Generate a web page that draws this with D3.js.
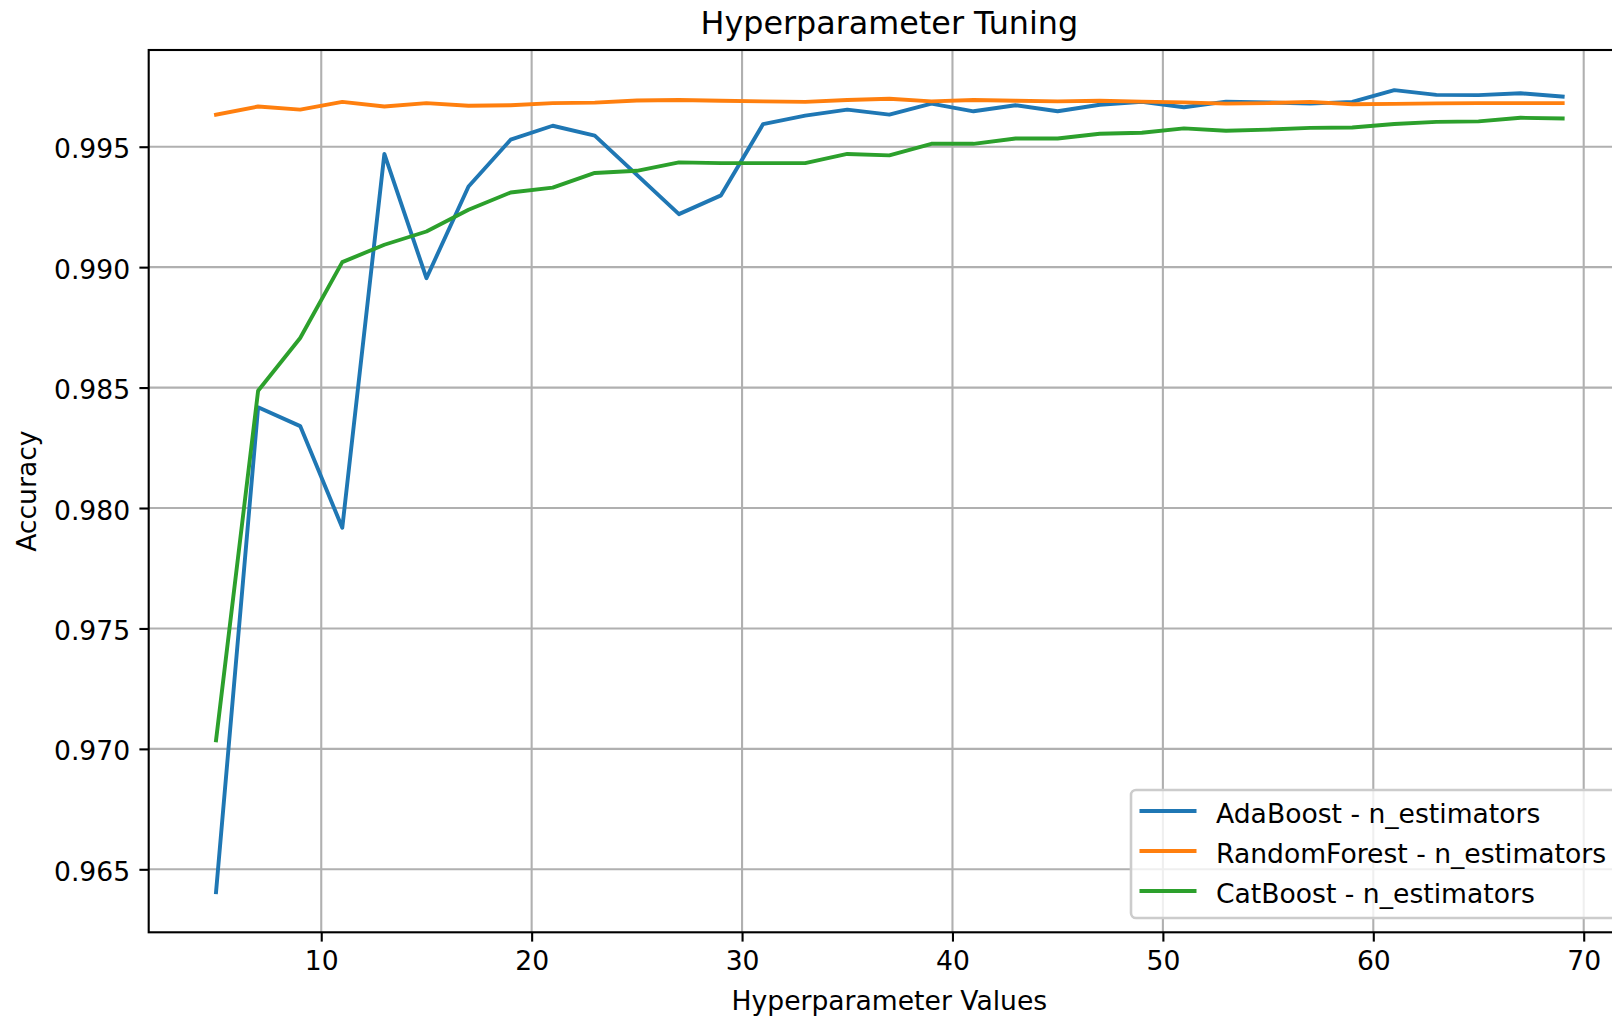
<!DOCTYPE html>
<html>
<head>
<meta charset="utf-8">
<script src="https://cdn.jsdelivr.net/npm/d3@7"></script>
<style>
    body { margin: 0; background: #ffffff; }
    svg { display: block; overflow: hidden; }
    text { font-family: "DejaVu Sans", sans-serif; fill: #000000; }
</style>
</head>
<body>
<div id="ChartContainer"></div>
<script>
const nEstimators = [5, 7, 9, 11, 13, 15, 17, 19, 21, 23, 25, 27, 29, 31, 33, 35, 37,
    39, 41, 43, 45, 47, 49, 51, 53, 55, 57, 59, 61, 63, 65, 67, 69];

const adaBoost = [0.96405, 0.98418, 0.98340, 0.97918, 0.99470, 0.98954, 0.99335, 0.99529,
    0.99587, 0.99546, 0.99383, 0.99220, 0.99298, 0.99594, 0.99629, 0.99654, 0.99633,
    0.99679, 0.99647, 0.99672, 0.99647, 0.99674, 0.99686, 0.99664, 0.99687, 0.99684,
    0.99679, 0.99686, 0.99735, 0.99715, 0.99714, 0.99722, 0.99708];

const randomForest = [0.99633, 0.99667, 0.99654, 0.99686, 0.99667, 0.99681, 0.99670, 0.99672,
    0.99681, 0.99683, 0.99692, 0.99694, 0.99691, 0.99688, 0.99686, 0.99694, 0.99699,
    0.99688, 0.99694, 0.99691, 0.99688, 0.99691, 0.99687, 0.99684, 0.99679, 0.99681,
    0.99686, 0.99676, 0.99678, 0.99680, 0.99681, 0.99681, 0.99681];

const catBoost = [0.97036, 0.98487, 0.98706, 0.99021, 0.99093, 0.99148, 0.99238, 0.99310,
    0.99330, 0.99391, 0.99400, 0.99435, 0.99432, 0.99432, 0.99432, 0.99470, 0.99464,
    0.99512, 0.99512, 0.99534, 0.99534, 0.99554, 0.99558, 0.99576, 0.99566, 0.99571,
    0.99578, 0.99580, 0.99594, 0.99603, 0.99605, 0.99620, 0.99617];

const seriesNames = ['AdaBoost - n_estimators', 'RandomForest - n_estimators', 'CatBoost - n_estimators'];
const seriesColors = ['#1f77b4', '#ff7f0e', '#2ca02c'];

const xTicks = [10, 20, 30, 40, 50, 60, 70];
const yTicks = [0.965, 0.970, 0.975, 0.980, 0.985, 0.990, 0.995];

const width = 1612;
const height = 1018;
// plot box (right edge runs past the picture, like the original crop)
const plotLeft = 148.7, plotTop = 50, plotRight = 1630, plotBottom = 932.3;
const tickFont = 26.6;
const titleFont = 31.8;
const lineWidth = 3.9;
const thin = 2.1;

const svg = d3.select('#ChartContainer')
    .append('svg')
    .attr('width', width)
    .attr('height', height);

const allSeries = [adaBoost, randomForest, catBoost];

// matplotlib style 5% padding
function paddedExtent(values) {
    const ext = d3.extent(values);
    const pad = (ext[1] - ext[0]) * 0.05;
    return [ext[0] - pad, ext[1] + pad];
}

const x = d3.scaleLinear()
    .domain(paddedExtent(nEstimators))
    .range([plotLeft, plotRight]);

const y = d3.scaleLinear()
    .domain(paddedExtent(allSeries.flat()))
    .range([plotBottom, plotTop]);

function drawGrid() {
    const grid = svg.append('g').attr('class', 'grid');

    grid.selectAll('line.vgrid')
        .data(xTicks)
        .enter()
        .append('line')
        .attr('x1', d => x(d))
        .attr('x2', d => x(d))
        .attr('y1', plotTop)
        .attr('y2', plotBottom)
        .attr('stroke', '#b0b0b0')
        .attr('stroke-width', thin);

    grid.selectAll('line.hgrid')
        .data(yTicks)
        .enter()
        .append('line')
        .attr('x1', plotLeft)
        .attr('x2', plotRight)
        .attr('y1', d => y(d))
        .attr('y2', d => y(d))
        .attr('stroke', '#b0b0b0')
        .attr('stroke-width', thin);
}

function drawAxes() {
    const xAxis = svg.append('g')
        .attr('transform', `translate(0,${plotBottom})`)
        .call(d3.axisBottom(x).tickValues(xTicks).tickSize(9.3).tickPadding(9.3).tickSizeOuter(0));

    const yAxis = svg.append('g')
        .attr('transform', `translate(${plotLeft},0)`)
        .call(d3.axisLeft(y).tickValues(yTicks).tickFormat(d3.format('.3f')).tickSize(9.3).tickPadding(9.3).tickSizeOuter(0));

    [xAxis, yAxis].forEach(a => {
        a.select('.domain').remove();
        a.selectAll('.tick line').attr('stroke', '#000').attr('stroke-width', thin);
        a.selectAll('.tick text')
            .attr('font-family', '"DejaVu Sans", sans-serif')
            .attr('font-size', tickFont)
            .attr('fill', '#000');
    });
    xAxis.selectAll('.tick text').attr('dy', null).attr('y', 9.3 + 9.3 + 19.5);
    yAxis.selectAll('.tick text').attr('dy', null).attr('y', 11);

    // spines
    svg.append('rect')
        .attr('x', plotLeft)
        .attr('y', plotTop)
        .attr('width', plotRight - plotLeft)
        .attr('height', plotBottom - plotTop)
        .attr('fill', 'none')
        .attr('stroke', '#000')
        .attr('stroke-width', thin);
}

function drawLines() {
    const line = d3.line()
        .x((d, i) => x(nEstimators[i]))
        .y(d => y(d));

    svg.append('g')
        .selectAll('path')
        .data(allSeries)
        .enter()
        .append('path')
        .attr('d', d => line(d))
        .attr('fill', 'none')
        .attr('stroke', (d, i) => seriesColors[i])
        .attr('stroke-width', lineWidth)
        .attr('stroke-linejoin', 'round')
        .attr('stroke-linecap', 'square');
}

function drawText() {
    svg.append('text')
        .attr('x', (plotLeft + plotRight) / 2)
        .attr('y', 33.5)
        .attr('text-anchor', 'middle')
        .attr('font-size', titleFont)
        .text('Hyperparameter Tuning');

    svg.append('text')
        .attr('x', (plotLeft + plotRight) / 2)
        .attr('y', 1010)
        .attr('text-anchor', 'middle')
        .attr('font-size', tickFont)
        .text('Hyperparameter Values');

    svg.append('text')
        .attr('transform', `translate(35.5,${(plotTop + plotBottom) / 2}) rotate(-90)`)
        .attr('text-anchor', 'middle')
        .attr('font-size', tickFont)
        .text('Accuracy');
}

function drawLegend() {
    const boxX = 1131, boxY = 790, boxW = 486, boxH = 128;
    const rowStart = 811, rowGap = 40;

    const legend = svg.append('g').attr('class', 'legend');

    legend.append('rect')
        .attr('x', boxX)
        .attr('y', boxY)
        .attr('width', boxW)
        .attr('height', boxH)
        .attr('rx', 5)
        .attr('fill', '#ffffff')
        .attr('fill-opacity', 0.8)
        .attr('stroke', '#cccccc')
        .attr('stroke-width', 2.6);

    const rows = legend.selectAll('g.row')
        .data(seriesNames)
        .enter()
        .append('g')
        .attr('transform', (d, i) => `translate(0,${rowStart + i * rowGap})`);

    rows.append('line')
        .attr('x1', 1139.5)
        .attr('x2', 1196.5)
        .attr('stroke', (d, i) => seriesColors[i])
        .attr('stroke-width', lineWidth);

    rows.append('text')
        .attr('x', 1216)
        .attr('y', 11.5)
        .attr('font-size', tickFont)
        .text(d => d);
}

drawGrid();
drawLines();
drawAxes();
drawText();
drawLegend();
</script>
</body>
</html>
